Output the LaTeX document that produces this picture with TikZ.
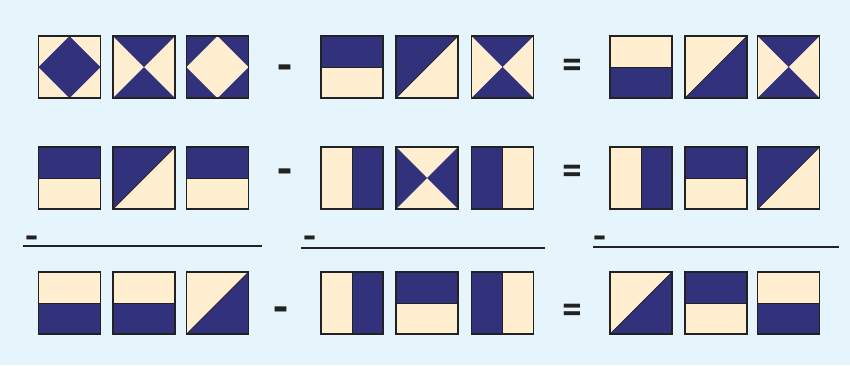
\documentclass[tikz,border=0pt]{standalone}
\usepackage{fontspec}
\newfontfamily\symfont{DejaVu Sans}
\definecolor{navy}{HTML}{32327C}
\definecolor{cream}{HTML}{FFEECF}
\definecolor{bgblue}{HTML}{E6F4FC}
\definecolor{ink}{HTML}{222222}
\tikzset{
  tileedge/.style={draw=ink, line width=1.2pt},
  seam/.style={draw=ink, line width=0.7pt},
  opsign/.style={font=\symfont\bfseries\fontsize{30}{30}\selectfont, inner sep=0pt, text=ink, yscale=1.35},
  eqsign/.style={font=\symfont\bfseries\fontsize{26}{26}\selectfont, inner sep=0pt, text=ink, yscale=1.3},
  smallminus/.style={font=\symfont\bfseries\fontsize{26}{26}\selectfont, inner sep=0pt, text=ink, yscale=1.2},
  barline/.style={draw=ink, line width=2pt},
  pics/diamond/.style={code={
    \fill[cream] (0,0) rectangle (62,62);
    \fill[navy] (31,0) -- (62,31) -- (31,62) -- (0,31) -- cycle;
    \draw[tileedge] (0,0) rectangle (62,62);}},
  pics/invdiamond/.style={code={
    \fill[navy] (0,0) rectangle (62,62);
    \fill[cream] (31,0) -- (62,31) -- (31,62) -- (0,31) -- cycle;
    \draw[tileedge] (0,0) rectangle (62,62);}},
  pics/hourglass/.style={code={
    \fill[cream] (0,0) rectangle (62,62);
    \fill[navy] (0,0) -- (62,0) -- (31,31) -- cycle;
    \fill[navy] (0,62) -- (62,62) -- (31,31) -- cycle;
    \draw[tileedge] (0,0) rectangle (62,62);}},
  pics/bowtie/.style={code={
    \fill[cream] (0,0) rectangle (62,62);
    \fill[navy] (0,0) -- (0,62) -- (31,31) -- cycle;
    \fill[navy] (62,0) -- (62,62) -- (31,31) -- cycle;
    \draw[tileedge] (0,0) rectangle (62,62);}},
  pics/halftop/.style={code={
    \fill[cream] (0,0) rectangle (62,62);
    \fill[navy] (0,0) rectangle (62,31);
    \draw[seam] (0,31) -- (62,31);
    \draw[tileedge] (0,0) rectangle (62,62);}},
  pics/halfbottom/.style={code={
    \fill[cream] (0,0) rectangle (62,62);
    \fill[navy] (0,31) rectangle (62,62);
    \draw[seam] (0,31) -- (62,31);
    \draw[tileedge] (0,0) rectangle (62,62);}},
  pics/halfright/.style={code={
    \fill[cream] (0,0) rectangle (62,62);
    \fill[navy] (31,0) rectangle (62,62);
    \draw[seam] (31,0) -- (31,62);
    \draw[tileedge] (0,0) rectangle (62,62);}},
  pics/halfleft/.style={code={
    \fill[cream] (0,0) rectangle (62,62);
    \fill[navy] (0,0) rectangle (31,62);
    \draw[seam] (31,0) -- (31,62);
    \draw[tileedge] (0,0) rectangle (62,62);}},
  pics/diagul/.style={code={
    \fill[cream] (0,0) rectangle (62,62);
    \fill[navy] (0,0) -- (62,0) -- (0,62) -- cycle;
    \draw[seam] (0,62) -- (62,0);
    \draw[tileedge] (0,0) rectangle (62,62);}},
  pics/diaglr/.style={code={
    \fill[cream] (0,0) rectangle (62,62);
    \fill[navy] (62,0) -- (62,62) -- (0,62) -- cycle;
    \draw[seam] (0,62) -- (62,0);
    \draw[tileedge] (0,0) rectangle (62,62);}},
}
\begin{document}
\begin{tikzpicture}[x=1pt, y=-1pt]
  \fill[bgblue] (0,0) rectangle (850,365);
  \useasboundingbox (0,0) rectangle (850,365);
  % Row 1
  \pic at (38.5,36) {diamond};
  \pic at (113,36) {hourglass};
  \pic at (186.5,36) {invdiamond};
  \node[opsign] (m1) at (284.5,71.5) {–};
  \pic at (321,36) {halftop};
  \pic at (396,36) {diagul};
  \pic at (471.5,36) {hourglass};
  \node[eqsign] (e1) at (572,67) {=};
  \pic at (610,36) {halfbottom};
  \pic at (685,36) {diaglr};
  \pic at (757.5,36) {hourglass};
  % Row 2
  \pic at (38.5,147) {halftop};
  \pic at (113,147) {diagul};
  \pic at (186.5,147) {halftop};
  \node[opsign] (m2) at (284.5,175.5) {–};
  \pic at (321,147) {halfright};
  \pic at (396,147) {bowtie};
  \pic at (471.5,147) {halfleft};
  \node[eqsign] (e2) at (572,173) {=};
  \pic at (610,147) {halfright};
  \pic at (685,147) {halftop};
  \pic at (757.5,147) {diagul};
  % Subtraction bars
  \node[smallminus] (s1) at (32,241) {–};
  \coordinate (l1a) at (23,245.5);
  \coordinate (l1b) at (262,245.5);
  \draw[barline] (l1a) -- (l1b);
  \node[smallminus] (s2) at (309.5,241) {–};
  \coordinate (l2a) at (301,247.5);
  \coordinate (l2b) at (545,247.5);
  \draw[barline] (l2a) -- (l2b);
  \node[smallminus] (s3) at (599.5,241) {–};
  \coordinate (l3a) at (593,247);
  \coordinate (l3b) at (839,247);
  \draw[barline] (l3a) -- (l3b);
  % Row 3
  \pic at (38.5,272) {halfbottom};
  \pic at (113,272) {halfbottom};
  \pic at (186.5,272) {diaglr};
  \node[opsign] (m3) at (281,314) {–};
  \pic at (321,272) {halfright};
  \pic at (396,272) {halftop};
  \pic at (471.5,272) {halfleft};
  \node[eqsign] (e3) at (572,312) {=};
  \pic at (610,272) {diaglr};
  \pic at (685,272) {halftop};
  \pic at (757.5,272) {halfbottom};
\end{tikzpicture}
\end{document}
